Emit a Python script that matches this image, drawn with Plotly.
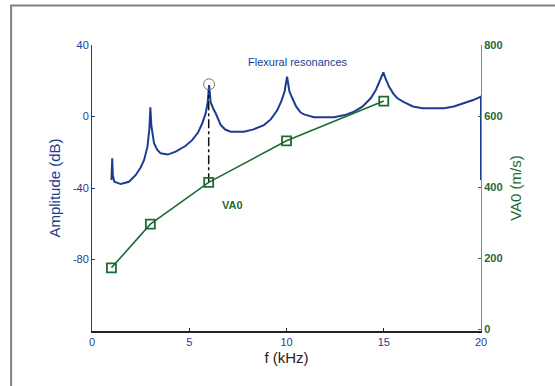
import plotly.graph_objects as go

# Amplitude response (dB) vs frequency (kHz)
freq_khz = [1.00, 1.02, 1.04, 1.07, 1.15, 1.48, 1.9, 2.25, 2.5, 2.68, 2.85, 2.95, 3.0, 3.05,
            3.19, 3.35, 3.53, 3.9, 4.3, 4.8, 5.16, 5.45, 5.67, 5.85, 5.95, 6.02, 6.1, 6.25,
            6.36, 6.62, 6.85, 7.13, 7.82, 8.3, 8.84, 9.2, 9.53, 9.75, 9.9, 10.03, 10.15, 10.3,
            10.5, 10.73, 10.9, 11.41, 12.44, 13.0, 13.47, 13.9, 14.33, 14.6, 14.8, 14.98, 15.1,
            15.27, 15.5, 15.7, 16.04, 16.5, 16.99, 18.1, 18.6, 19.13, 19.6, 20.0, 20.0]
amp_db = [-35.5, -30, -23.4, -33, -36.5, -37.8, -36.5, -32.7, -28.5, -24.3, -17, -7, 5.1, -5,
          -15, -18.5, -20.6, -21.3, -19.7, -16.5, -13.1, -9, -3.8, 2, 8, 17.6, 8, 4,
          1.8, -4.8, -7.3, -8.5, -8.5, -7.2, -4.8, -1.5, 3.6, 9, 14, 22.3, 14, 10.2,
          5.5, 2.2, 1.2, -0.4, -0.4, 0.8, 2.7, 5.5, 10.2, 15, 19.8, 24.7, 21,
          16.7, 12.7, 10.2, 8.0, 5.6, 4.6, 4.6, 5.6, 7.4, 9.2, 11.1, -35.5]

# VA0 velocity (m/s)
va0_f = [1, 3, 6, 10, 15]
va0_v = [173, 296, 414, 531, 643]

# Highlighted resonance
mark_f = [6.02]
mark_db = [18]
link_f = [6, 6]
link_v = [414, 672]

# Tick labels
x_ticks = [0, 5, 10, 15, 20]
y_ticks = [-80, -40, 0, 40]
y_ticktext = ["-80", "-40", "0", "40"]
y2_ticks = [0, 200, 400, 600, 800]

blue = "#1c3c94"
green = "#1f6a33"

fig = go.Figure()
fig.add_trace(go.Scatter(x=freq_khz, y=amp_db, mode="lines",
                         line=dict(color=blue, width=2), showlegend=False, yaxis="y"))
fig.add_trace(go.Scatter(x=link_f, y=link_v, mode="lines",
                         line=dict(color="#111111", width=1.5, dash="dashdot"),
                         showlegend=False, yaxis="y2"))
fig.add_trace(go.Scatter(x=va0_f, y=va0_v, mode="lines+markers",
                         line=dict(color=green, width=1.6),
                         marker=dict(symbol="square-open", size=9, color=green,
                                     line=dict(width=1.8, color=green)),
                         showlegend=False, yaxis="y2"))
fig.add_trace(go.Scatter(x=mark_f, y=mark_db, mode="markers",
                         marker=dict(symbol="circle-open", size=11, color="#777777",
                                     line=dict(width=1, color="#777777")),
                         showlegend=False, yaxis="y"))

fig.update_layout(
    width=555, height=386,
    margin=dict(l=92, r=74, t=45, b=55),
    paper_bgcolor="white", plot_bgcolor="white",
    font=dict(family="Arial, Liberation Sans, sans-serif"),
    xaxis=dict(range=[0, 20], tickvals=x_ticks, showgrid=False, zeroline=False,
               showline=True, linecolor="#222222", linewidth=1.5,
               ticks="inside", ticklen=3, tickcolor="#222222",
               tickfont=dict(color=blue, size=11),
               title=dict(text="f (kHz)", font=dict(color="#2a2018", size=15), standoff=6)),
    yaxis=dict(range=[-120, 40], tickvals=y_ticks, ticktext=y_ticktext, showgrid=False,
               zeroline=False, showline=True, linecolor=blue, linewidth=1,
               ticks="inside", ticklen=3, tickcolor=blue,
               tickfont=dict(color=blue, size=11),
               title=dict(text="Amplitude (dB)", font=dict(color=blue, size=15), standoff=8)),
    yaxis2=dict(range=[-5, 801], tickvals=y2_ticks, overlaying="y", side="right",
                showgrid=False, zeroline=False, showline=True, linecolor="#6a9a74", linewidth=1,
                ticks="inside", ticklen=3, tickcolor=green,
                tickfont=dict(color=green, size=11, weight="bold"),
                title=dict(text="VA0 (m/s)", font=dict(color=green, size=15), standoff=8)),
    shapes=[dict(type="rect", xref="paper", yref="paper", x0=-0.208, x1=1.3, y0=-0.4, y1=1.138,
                 line=dict(color="#808080", width=2), layer="below")],
    annotations=[
        dict(x=10.6, y=30.5, xref="x", yref="y", text="Flexural resonances", showarrow=False,
             font=dict(color=blue, size=11)),
        dict(x=7.2, y=-49.5, xref="x", yref="y", text="<b>VA0</b>", showarrow=False,
             font=dict(color=green, size=11)),
    ],
)

fig.write_html("out.html")
